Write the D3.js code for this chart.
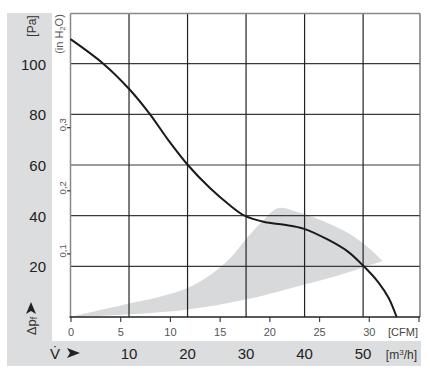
<!DOCTYPE html>
<html><head><meta charset="utf-8">
<script src="https://cdn.jsdelivr.net/npm/d3@7"></script>
<style>
html,body{margin:0;padding:0;background:#fff;}
svg{display:block;font-family:"Liberation Sans",Arial,Helvetica,sans-serif;}
</style></head>
<body>
<svg id="c" width="430" height="371"></svg>
<script>
// ---- data ----
const curveCfm = [0, 3.3, 5.9, 8.0, 9.8, 11.8, 14.0, 15.9, 17.5, 19.5, 21.5, 23.5, 26.0, 27.9, 29.4, 31.0, 32.0, 32.8];
const curvePa  = [109.7, 100, 90, 80, 70, 60, 51, 44.5, 40, 37.5, 36.4, 34.8, 30.3, 25.8, 20.4, 13.5, 7.5, 0];
// operating-range shading: upper edge (left to right) and lower edge (left to right)
const shadeUpperCfm = [0, 6.0, 9.0, 11.7, 14.0, 16.0, 17.7, 19.4, 20.9, 22.9, 25.0, 27.0, 28.6, 29.9, 30.9, 31.4];
const shadeUpperPa  = [0, 5.4, 8.0, 11.3, 16.5, 23.0, 31.0, 38.2, 43.0, 41.3, 38.5, 35.0, 31.5, 27.5, 24.0, 22.0];
const shadeLowerCfm = [0, 6.0, 11.7, 16.0, 19.4, 22.7, 26.1, 28.6, 30.2, 31.4];
const shadeLowerPa  = [0, 1.1, 2.9, 5.6, 8.5, 11.9, 15.5, 18.5, 20.6, 22.0];
const cfmTicks = [0, 5, 10, 15, 20, 25, 30, 35];
const cfmLabels = ["0", "5", "10", "15", "20", "25", "30", ""];
const m3hTicks = [10, 20, 30, 40, 50];
const paTicks = [20, 40, 60, 80, 100];
const inH2OTicks = [0.1, 0.2, 0.3];
const inH2OLabels = ["0,1", "0,2", "0,3"];
const CFM_PER_M3H = 1 / 1.699;
const PA_PER_INH2O = 249.089;

// ---- layout ----
const svg = d3.select("#c");
const x = d3.scaleLinear().domain([0, 35]).range([70.5, 418.5]);
const y = d3.scaleLinear().domain([0, 120]).range([317, 13]);
const pL = 70.5, pR = 420, pT = 13.5, pB = 317;
const gray = "#dcdddf";

// gray bands
svg.append("rect").attr("x", 7).attr("y", 13).attr("width", 45).attr("height", 353).attr("fill", gray);
svg.append("rect").attr("x", 7).attr("y", 341).attr("width", 414).attr("height", 25).attr("fill", gray);

// shaded region
const lineGen = d3.line().x(d => x(d[0])).y(d => y(d[1])).curve(d3.curveCatmullRom.alpha(0.5));
const up = shadeUpperCfm.map((c, i) => [c, shadeUpperPa[i]]);
const lo = shadeLowerCfm.map((c, i) => [c, shadeLowerPa[i]]).reverse();
svg.append("path")
  .attr("d", lineGen(up) + lineGen(lo).replace(/^M/, "L") + "Z")
  .attr("fill", "#d8d9db");

// grid
const g = svg.append("g");
g.selectAll("line.h").data(paTicks).join("line")
  .attr("x1", pL).attr("x2", pR)
  .attr("y1", d => y(d)).attr("y2", d => y(d))
  .attr("stroke", "#3a3a3a").attr("stroke-width", 1.2);
g.selectAll("line.v").data(m3hTicks).join("line")
  .attr("x1", d => x(d * CFM_PER_M3H)).attr("x2", d => x(d * CFM_PER_M3H))
  .attr("y1", pT).attr("y2", pB)
  .attr("stroke", "#222").attr("stroke-width", 1.2);

// frame
svg.append("line").attr("x1", pL).attr("x2", pR).attr("y1", pT).attr("y2", pT).attr("stroke", "#888").attr("stroke-width", 1.3);
svg.append("line").attr("x1", pR).attr("x2", pR).attr("y1", pT).attr("y2", pB).attr("stroke", "#666").attr("stroke-width", 1.3);
svg.append("line").attr("x1", pL).attr("x2", pL).attr("y1", pT).attr("y2", pB).attr("stroke", "#888").attr("stroke-width", 1.5);

// bottom axis (CFM)
const ax = svg.append("g").attr("transform", `translate(0,${pB})`)
  .call(d3.axisBottom(x).tickValues(cfmTicks).tickSize(5).tickSizeOuter(0).tickPadding(6)
    .tickFormat((d, i) => cfmLabels[i]));
ax.select(".domain").remove();
ax.selectAll(".tick line").attr("stroke", "#444").attr("stroke-width", 1.2);
ax.selectAll(".tick text").attr("font-size", 11).attr("fill", "#555").attr("font-family", "Liberation Sans, Arial, sans-serif");
svg.append("line").attr("x1", pL - 1).attr("x2", pR).attr("y1", pB).attr("y2", pB).attr("stroke", "#222").attr("stroke-width", 1.5);
svg.append("text").attr("x", 418).attr("y", 336).attr("text-anchor", "end")
  .attr("font-size", 11).attr("fill", "#444").text("[CFM]");

// m3/h labels
svg.selectAll("text.m3h").data(m3hTicks).join("text")
  .attr("x", d => x(d * CFM_PER_M3H)).attr("y", 359).attr("text-anchor", "middle")
  .attr("font-size", 15).attr("fill", "#222").text(d => d);
const m3 = svg.append("text").attr("x", 417).attr("y", 359).attr("text-anchor", "end").attr("font-size", 12).attr("fill", "#333");
m3.append("tspan").text("[m");
m3.append("tspan").attr("font-size", 8).attr("dy", -4).text("3");
m3.append("tspan").attr("dy", 4).text("/h]");

// V-dot arrow
svg.append("text").attr("x", 50).attr("y", 358.5).attr("font-size", 15).attr("fill", "#222").text("V\u0307");
svg.append("path").attr("d", "M0,-5 L13,0 L0,5 L3,0 Z").attr("transform", "translate(67,353)").attr("fill", "#222");

// Pa labels
svg.selectAll("text.pa").data(paTicks).join("text")
  .attr("x", 46).attr("y", d => y(d) + 6).attr("text-anchor", "end")
  .attr("font-size", 15).attr("fill", "#222").text(d => d);
svg.append("text").attr("transform", "translate(36,26) rotate(-90)").attr("text-anchor", "middle")
  .attr("font-size", 12).attr("fill", "#333").text("[Pa]");

// dp arrow + label
svg.append("path").attr("d", "M0,-5 L12,0 L0,5 L3,0 Z").attr("transform", "translate(31,314) rotate(-90)").attr("fill", "#222");
const dp = svg.append("text").attr("transform", "translate(36,326) rotate(-90)").attr("text-anchor", "middle")
  .attr("font-size", 13).attr("fill", "#333");
dp.append("tspan").text("\u0394p");
dp.append("tspan").attr("font-size", 9).attr("dy", 1).text("f");

// in H2O axis
svg.selectAll("line.ih").data(inH2OTicks).join("line")
  .attr("x1", 67).attr("x2", pL).attr("y1", d => y(d * PA_PER_INH2O)).attr("y2", d => y(d * PA_PER_INH2O))
  .attr("stroke", "#333").attr("stroke-width", 1.2);
svg.selectAll("text.ih").data(inH2OTicks).join("text")
  .attr("transform", d => `translate(66,${y(d * PA_PER_INH2O) - 3}) rotate(-90)`)
  .attr("text-anchor", "middle").attr("font-size", 9.5).attr("fill", "#555")
  .text((d, i) => inH2OLabels[i]);
const ih = svg.append("text").attr("transform", "translate(63,34) rotate(-90)").attr("text-anchor", "middle")
  .attr("font-size", 11).attr("fill", "#555");
ih.append("tspan").text("(in H");
ih.append("tspan").attr("font-size", 7.5).attr("dy", 2).text("2");
ih.append("tspan").attr("dy", -2).text("O)");

// fan curve
const cpts = curveCfm.map((c, i) => [c, curvePa[i]]);
svg.append("path")
  .attr("d", lineGen(cpts))
  .attr("fill", "none").attr("stroke", "#1a1a1a").attr("stroke-width", 2);
</script>
</body></html>
